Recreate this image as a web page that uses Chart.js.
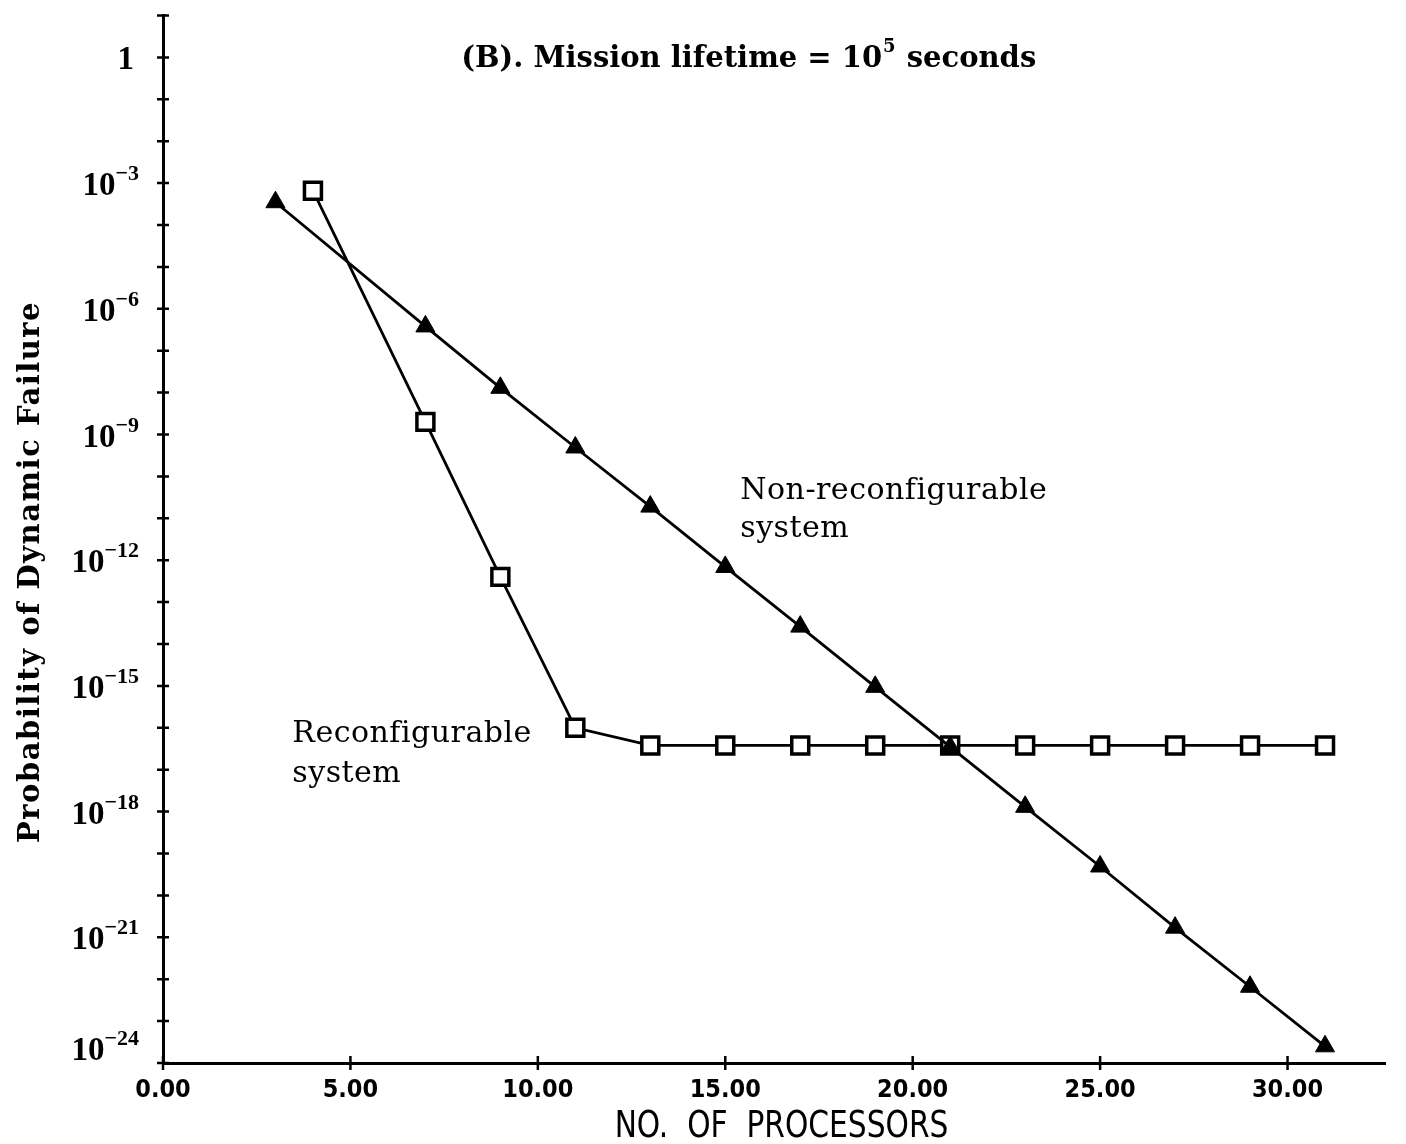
<!DOCTYPE html>
<html>
<head>
<meta charset="utf-8">
<script src="https://cdn.jsdelivr.net/npm/chart.js@4.4.1/dist/chart.umd.min.js"></script>
<style>
  html, body { margin: 0; padding: 0; background: #fff; }
  #wrap { width: 1406px; height: 1144px; }
</style>
</head>
<body>
<div id="wrap"><canvas id="chart" width="1406" height="1144"></canvas></div>
<script>
// Non-reconfigurable system (triangles)
const procNonReconf = [3, 7, 9, 11, 13, 15, 17, 19, 21, 23, 25, 27, 29, 31];
const failNonReconf = [3.5e-4, 3.8e-7, 1.3e-8, 4.9e-10, 1.9e-11, 6.9e-13, 2.6e-14,
                       9.5e-16, 3.5e-17, 1.3e-18, 4.9e-20, 1.7e-21, 6.6e-23, 2.5e-24];

// Reconfigurable system (squares)
const procReconf = [4, 7, 9, 11, 13, 15, 17, 19, 21, 23, 25, 27, 29, 31];
const failReconf = [6.6e-4, 2.0e-9, 4.0e-13, 1.0e-16, 3.8e-17, 3.8e-17, 3.8e-17,
                    3.8e-17, 3.8e-17, 3.8e-17, 3.8e-17, 3.8e-17, 3.8e-17, 3.8e-17];

const xTicks = [0, 5, 10, 15, 20, 25, 30];
const yTickExps = [1, 0, -1, -2, -3, -4, -5, -6, -7, -8, -9, -10, -11, -12, -13, -14, -15,
                   -16, -17, -18, -19, -20, -21, -22, -23, -24];
const yLabelExps = [0, -3, -6, -9, -12, -15, -18, -21, -24];

const serif = '"DejaVu Serif", "Liberation Serif", serif';
const numFont = '"Liberation Serif", "DejaVu Serif", serif';
const plotFont = '"DejaVu Sans Condensed", "DejaVu Sans", sans-serif';

const toPoints = (xs, ys) => xs.map((v, i) => ({ x: v, y: ys[i] }));

// tick marks, superscript labels, titles and notes
const decor = {
  id: 'decor',
  afterDraw(chart) {
    const { ctx, scales: { x, y } } = chart;
    ctx.save();
    ctx.strokeStyle = '#000';
    ctx.fillStyle = '#000';
    ctx.lineWidth = 2.5;

    ctx.beginPath();
    yTickExps.forEach(e => {
      const py = y.getPixelForValue(Math.pow(10, e));
      ctx.moveTo(x.left - 6, py); ctx.lineTo(x.left + 6, py);
    });
    xTicks.forEach(v => {
      const px = x.getPixelForValue(v);
      ctx.moveTo(px, y.bottom - 7); ctx.lineTo(px, y.bottom + 7);
    });
    ctx.stroke();

    // y labels: 10^n
    const right = x.left - 24;
    ctx.textAlign = 'right';
    ctx.textBaseline = 'alphabetic';
    yLabelExps.forEach(e => {
      let py = y.getPixelForValue(Math.pow(10, e)) + 12;
      if (e === -24) py -= 15;
      if (e === 0) {
        ctx.font = 'bold 33px ' + numFont;
        ctx.fillText('1', right - 5, py);
        return;
      }
      const sup = '\u2212' + (-e);
      ctx.font = 'bold 22px ' + numFont;
      const sw = ctx.measureText(sup).width;
      ctx.fillText(sup, right, py - 15);
      ctx.font = 'bold 33px ' + numFont;
      ctx.fillText('10', right - sw, py);
    });

    // title
    const t1 = '(B). Mission lifetime = 10', t2 = '5', t3 = ' seconds';
    ctx.textAlign = 'left';
    ctx.font = 'bold 29px ' + serif;
    const w1 = ctx.measureText(t1).width, w3 = ctx.measureText(t3).width;
    ctx.font = 'bold 18px ' + serif;
    const w2 = ctx.measureText(t2).width;
    const tx = x.getPixelForValue(15.6) - (w1 + w2 + w3) / 2;
    const ty = 67;
    ctx.font = 'bold 29px ' + serif;
    ctx.fillText(t1, tx, ty);
    ctx.font = 'bold 18px ' + serif;
    ctx.fillText(t2, tx + w1 + 1, ty - 15);
    ctx.font = 'bold 29px ' + serif;
    ctx.fillText(t3, tx + w1 + w2 + 2, ty);

    // curve notes
    ctx.font = '30px ' + serif;
    ctx.letterSpacing = '0.5px';
    const nx = x.getPixelForValue(15.4);
    ctx.fillText('Non-reconfigurable', nx, y.getPixelForValue(2.9e-11));
    ctx.fillText('system', nx, y.getPixelForValue(3.5e-12));
    const rx = x.getPixelForValue(3.45);
    ctx.fillText('Reconfigurable', rx, y.getPixelForValue(4.5e-17));
    ctx.fillText('system', rx, y.getPixelForValue(5.0e-18));
    ctx.letterSpacing = '0px';

    // axis titles
    ctx.save();
    ctx.translate(31, 572);
    ctx.rotate(-Math.PI / 2);
    ctx.textAlign = 'center';
    ctx.textBaseline = 'middle';
    ctx.font = 'bold 29px ' + serif;
    ctx.letterSpacing = '1.5px';
    ctx.fillText('Probability of Dynamic Failure', 0, 0);
    ctx.letterSpacing = '0px';
    ctx.restore();

    ctx.save();
    ctx.translate(x.getPixelForValue(16.5), 1137);
    ctx.scale(1.0, 1.12);
    ctx.textAlign = 'center';
    ctx.font = '33px ' + plotFont;
    ctx.fillText('NO.  OF  PROCESSORS', 0, 0);
    ctx.restore();

    ctx.restore();
  }
};

new Chart(document.getElementById('chart'), {
  type: 'line',
  data: {
    datasets: [
      {
        label: 'Non-reconfigurable system',
        data: toPoints(procNonReconf, failNonReconf),
        borderColor: '#000', borderWidth: 2.8,
        pointStyle: 'triangle', pointRadius: 11,
        pointBackgroundColor: '#000', pointBorderColor: '#000', pointBorderWidth: 1,
        tension: 0, clip: false
      },
      {
        label: 'Reconfigurable system',
        data: toPoints(procReconf, failReconf),
        borderColor: '#000', borderWidth: 2.8,
        pointStyle: 'rect', pointRadius: 12,
        pointBackgroundColor: '#fff', pointBorderColor: '#000', pointBorderWidth: 3.5,
        tension: 0, clip: false
      }
    ]
  },
  options: {
    responsive: false,
    animation: false,
    layout: { padding: { top: 6, right: 21, left: 0, bottom: 0 } },
    plugins: { legend: { display: false }, tooltip: { enabled: false } },
    scales: {
      x: {
        type: 'linear', min: 0, max: 32.6,
        grid: { display: false },
        border: { display: true, color: '#000', width: 3 },
        afterBuildTicks: s => { s.ticks = xTicks.map(v => ({ value: v })); },
        afterFit: s => { s.height = 81; },
        ticks: {
          padding: 4, color: '#000',
          font: { family: plotFont, size: 25, weight: 'bold' },
          callback: v => Number(v).toFixed(2)
        }
      },
      y: {
        type: 'logarithmic', min: 1e-24, max: 10,
        grid: { display: false },
        border: { display: true, color: '#000', width: 3 },
        afterBuildTicks: s => { s.ticks = yTickExps.map(e => ({ value: Math.pow(10, e) })); },
        afterFit: s => { s.width = 163; },
        ticks: { display: false }
      }
    }
  },
  plugins: [decor]
});
</script>
</body>
</html>
